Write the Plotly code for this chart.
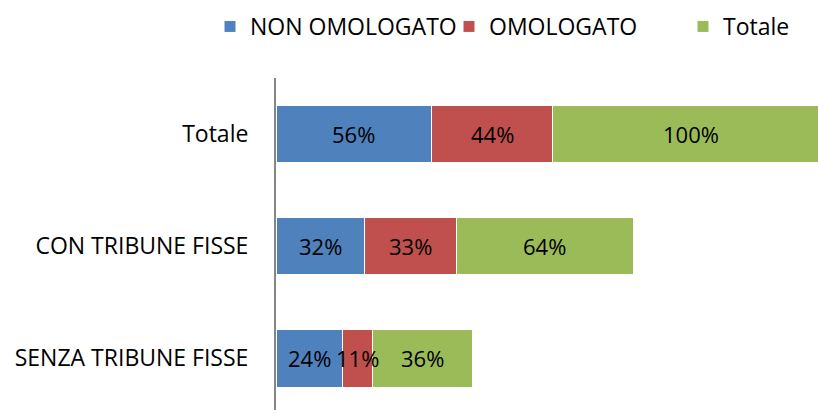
import plotly.graph_objects as go

# Categories, bottom to top
categories = ["SENZA TRIBUNE FISSE", "CON TRIBUNE FISSE", "Totale"]

# Percentages per series
non_omologato = [24, 32, 56]
omologato = [11, 33, 44]
totale = [36, 64, 100]

series = [
    ("NON OMOLOGATO", non_omologato, "#4F81BD"),
    ("OMOLOGATO", omologato, "#C0504D"),
    ("Totale", totale, "#9BBB59"),
]

FONT = "Open Sans"
LABEL_SIZE = 22
TEXT_SIZE = 23

# Left edge (px) of each legend entry along the top row
legend_left_px = [210, 449, 683]

fig = go.Figure()
base = [0] * len(categories)
annotations = []
legends = {}
for i, (name, values, color) in enumerate(series):
    legend_id = "legend" if i == 0 else f"legend{i + 1}"
    fig.add_trace(go.Bar(
        y=categories,
        x=values,
        name=name,
        orientation="h",
        marker=dict(color=color, line=dict(color="white", width=1)),
        legend=legend_id,
        hoverinfo="skip",
    ))
    # Value labels centred on each segment, drawn above every bar
    for cat, b, v in zip(categories, base, values):
        annotations.append(dict(
            x=b + v / 2, y=cat, xref="x", yref="y",
            text=f"{v}%", showarrow=False,
            font=dict(family=FONT, size=LABEL_SIZE, color="black"),
            xanchor="center", yanchor="middle",
        ))
    base = [b + v for b, v in zip(base, values)]
    legends[legend_id] = dict(
        orientation="h",
        x=legend_left_px[i] / 818, xref="container",
        xanchor="left",
        y=1 - 5 / 410, yref="container",
        yanchor="top",
        font=dict(family=FONT, size=TEXT_SIZE, color="black"),
        itemwidth=30,
        bgcolor="rgba(0,0,0,0)",
    )

fig.update_layout(
    barmode="stack",
    bargap=0.49,
    width=818,
    height=410,
    margin=dict(l=276, r=0, t=78, b=0, autoexpand=False),
    paper_bgcolor="white",
    plot_bgcolor="white",
    font=dict(family=FONT, size=TEXT_SIZE, color="black"),
    showlegend=True,
    annotations=annotations,
    xaxis=dict(
        range=[0, 195.7],
        showgrid=False,
        zeroline=False,
        showticklabels=False,
        showline=False,
        fixedrange=True,
    ),
    yaxis=dict(
        type="category",
        categoryorder="array",
        categoryarray=categories,
        range=[-0.46, 2.5],
        showgrid=False,
        zeroline=False,
        showline=True,
        linecolor="#868686",
        linewidth=2,
        ticks="",
        ticklabelstandoff=21,
        tickfont=dict(family=FONT, size=TEXT_SIZE, color="black"),
    ),
    **legends,
)

fig.write_html("out.html")
